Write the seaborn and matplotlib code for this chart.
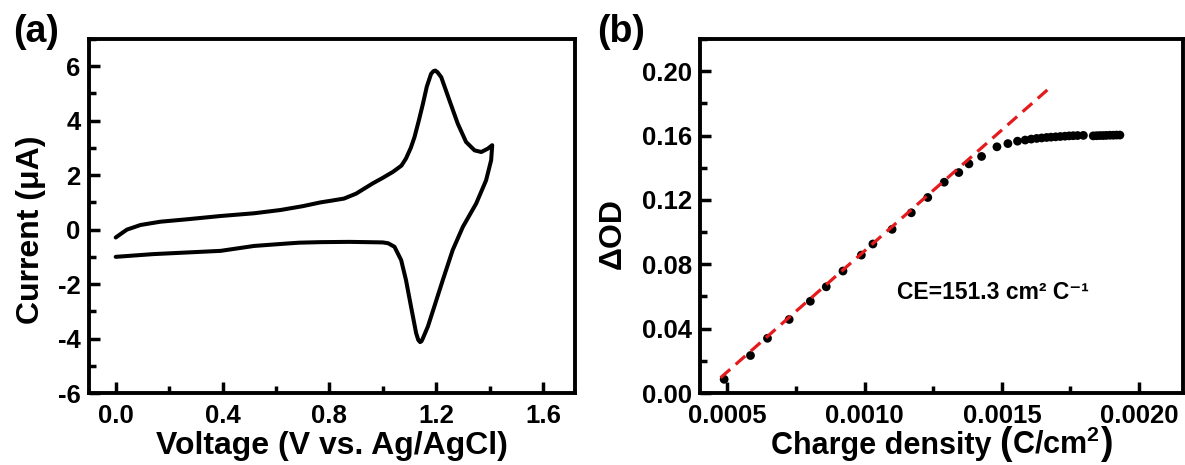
import pandas as pd
import numpy as np
import matplotlib
matplotlib.use("Agg")
import matplotlib.pyplot as plt
import seaborn as sns
from matplotlib.ticker import AutoMinorLocator, MultipleLocator, FormatStrFormatter
from matplotlib.offsetbox import TextArea, HPacker, AnchoredOffsetbox

# (a) cyclic voltammogram, forward scan then return scan
cv_voltage = [0.0, 0.02, 0.042, 0.093, 0.167, 0.268, 0.393, 0.518, 0.617, 0.70, 0.767, 0.812,
              0.855, 0.90, 0.963, 1.0, 1.038, 1.07, 1.087, 1.105, 1.119, 1.135, 1.150, 1.165,
              1.181, 1.19, 1.197, 1.205, 1.219, 1.25, 1.281, 1.312, 1.344, 1.369, 1.393, 1.41,
              1.406, 1.387, 1.35, 1.30, 1.262, 1.225, 1.193, 1.169, 1.15, 1.145, 1.14, 1.133,
              1.125, 1.106, 1.087, 1.069, 1.044, 1.02, 1.0, 0.942, 0.875, 0.767, 0.687, 0.642,
              0.518, 0.393, 0.14, 0.0]
cv_current = [-0.29, -0.15, 0.0, 0.17, 0.29, 0.38, 0.50, 0.60, 0.72, 0.86, 1.0, 1.07,
              1.14, 1.32, 1.70, 1.90, 2.12, 2.35, 2.61, 3.0, 3.4, 4.0, 4.6, 5.25,
              5.72, 5.82, 5.84, 5.78, 5.6, 4.74, 3.89, 3.22, 2.91, 2.85, 2.97, 3.1,
              2.55, 1.81, 0.96, 0.1, -0.75, -1.85, -2.83, -3.56, -4.0, -4.1, -4.13, -4.05,
              -3.8, -2.83, -1.85, -1.12, -0.63, -0.5, -0.47, -0.46, -0.45, -0.46, -0.48, -0.51,
              -0.60, -0.78, -0.90, -1.0]

# (b) optical density change vs charge density
charge = [0.000488, 0.000584, 0.000646, 0.000725, 0.000802, 0.000860, 0.000921, 0.000988,
          0.001030, 0.001100, 0.001170, 0.001230, 0.001290, 0.001343, 0.001380, 0.001426,
          0.001482, 0.001522, 0.001557, 0.001585, 0.001607, 0.001627, 0.001645, 0.001663,
          0.001679, 0.001696, 0.001713, 0.001730, 0.001745, 0.001760, 0.001776, 0.001797,
          0.001833, 0.001845, 0.001857, 0.001869, 0.001881, 0.001894, 0.001906, 0.001918, 0.001930]
delta_od = [0.0085, 0.0233, 0.0340, 0.0457, 0.0570, 0.0660, 0.0758, 0.0857,
            0.0926, 0.1017, 0.1120, 0.1215, 0.1310, 0.1370, 0.1424, 0.1470,
            0.1530, 0.1550, 0.1565, 0.1572, 0.1578, 0.1582, 0.1585, 0.1588,
            0.1590, 0.1592, 0.1594, 0.1596, 0.1598, 0.1599, 0.1600, 0.1601,
            0.1598, 0.1599, 0.1600, 0.1600, 0.1601, 0.1602, 0.1602, 0.1603, 0.1603]
fit_x = [0.000475, 0.00167]
fit_y = [0.0095, 0.189]

sns.set_style("ticks")
plt.rcParams['font.family'] = ['Liberation Sans', 'DejaVu Sans']
plt.rcParams['mathtext.fontset'] = 'custom'
plt.rcParams['mathtext.rm'] = 'Liberation Sans'
plt.rcParams['mathtext.bf'] = 'Liberation Sans:bold'
plt.rcParams['axes.unicode_minus'] = False
for key in ['text.color', 'axes.labelcolor', 'xtick.color', 'ytick.color']:
    plt.rcParams[key] = 'black'

cv_df = pd.DataFrame({"V": cv_voltage, "I": cv_current})
od_df = pd.DataFrame({"Q": charge, "OD": delta_od})
fit_df = pd.DataFrame({"Q": fit_x, "OD": fit_y})

fig = plt.figure(figsize=(11.85, 4.65), dpi=100)
ax1 = fig.add_axes([89/1185, 72/465, 486/1185, 354/465])
ax2 = fig.add_axes([700/1185, 72/465, 483/1185, 354/465])

sns.lineplot(data=cv_df, x="V", y="I", sort=False, estimator=None, color="black",
             linewidth=2.9, ax=ax1)
sns.lineplot(data=fit_df, x="Q", y="OD", sort=False, estimator=None, color="#e41a1c",
             linewidth=2.3, linestyle=(0, (4, 2.3)), ax=ax2, zorder=3)
sns.scatterplot(data=od_df, x="Q", y="OD", color="black", s=40, edgecolor="none",
                ax=ax2, zorder=2)

ax1.set_xlim(-0.1, 1.72)
ax1.set_ylim(-6, 7)
ax1.xaxis.set_major_locator(MultipleLocator(0.4))
ax1.yaxis.set_major_locator(MultipleLocator(2))
ax1.xaxis.set_major_formatter(FormatStrFormatter("%.1f"))
ax1.set_xlabel("Voltage (V vs. Ag/AgCl)", fontsize=23, fontweight="bold", labelpad=2)
ax1.set_ylabel("Current (\u03bcA)", fontsize=23, fontweight="bold")
ax1.yaxis.set_label_coords(-0.088, 0.46)

ax2.set_xlim(0.0004, 0.00216)
ax2.set_ylim(0, 0.22)
ax2.xaxis.set_major_locator(MultipleLocator(0.0005))
ax2.yaxis.set_major_locator(MultipleLocator(0.04))
ax2.xaxis.set_major_formatter(FormatStrFormatter("%.4f"))
ax2.yaxis.set_major_formatter(FormatStrFormatter("%.2f"))
ax2.set_xlabel("")
ax2.set_ylabel("\u0394OD", fontsize=23, fontweight="bold")
ax2.yaxis.set_label_coords(-0.15, 0.45)
ax2.text(0.001119, 0.0587, "CE=151.3 cm\u00b2 C\u207b\u00b9", fontsize=16.5, fontweight="bold")

# x label of (b) with tall parentheses
bold = dict(fontsize=22, fontweight="bold", color="black")
paren = dict(fontsize=27, fontweight="bold", color="black")
xlab = HPacker(children=[TextArea("Charge density ", textprops=bold),
                         TextArea("(", textprops=paren),
                         TextArea(r"$\mathbf{C/cm^{2}}$", textprops=bold),
                         TextArea(")", textprops=paren)],
               align="baseline", pad=0, sep=0)
ax2.add_artist(AnchoredOffsetbox(loc="upper center", child=xlab, pad=0, borderpad=0,
                                 frameon=False, bbox_to_anchor=(0.5, -0.092),
                                 bbox_transform=ax2.transAxes))

for ax in (ax1, ax2):
    ax.xaxis.set_minor_locator(AutoMinorLocator(2))
    ax.yaxis.set_minor_locator(AutoMinorLocator(2))
    ax.tick_params(which="both", direction="in", top=False, right=False, width=2.5,
                   labelsize=18.5)
    ax.tick_params(which="major", length=8)
    ax.tick_params(which="minor", length=5)
    ax.tick_params(axis="x", pad=8)
    ax.tick_params(axis="y", pad=6)
    for lab in ax.get_xticklabels() + ax.get_yticklabels():
        lab.set_fontweight("bold")
    for sp in ax.spines.values():
        sp.set_visible(True)
        sp.set_linewidth(2.8)
        sp.set_color("black")

fig.text(13/1185, 1 - 14/465, "(a)", fontsize=27, fontweight="bold", va="top", ha="left")
fig.text(597/1185, 1 - 14/465, "(b)", fontsize=27, fontweight="bold", va="top", ha="left")

fig.savefig("out.png", dpi=100)
